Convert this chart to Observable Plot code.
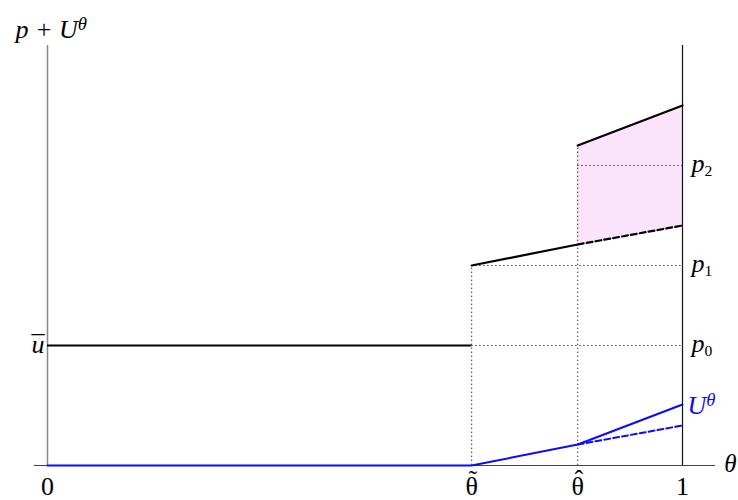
<!DOCTYPE html>
<html>
<head>
<meta charset="utf-8">
<script src="https://cdn.jsdelivr.net/npm/d3@7"></script>
<script src="https://cdn.jsdelivr.net/npm/@observablehq/plot@0.6"></script>
<style>
  html, body { margin: 0; padding: 0; background: #fff; }
  #chart svg { display: block; }
  #chart svg text { font-family: "Liberation Serif", "DejaVu Serif", serif; }
</style>
</head>
<body>
<div id="chart"></div>
<script>
// ---- data (x in θ units, y in value units) ----
const thetaTilde = 0.668;
const thetaHat = 0.835;
const xTicks = [0, thetaTilde, thetaHat, 1];
const xTickLabels = ["0", "θ\u02DC", "θ\u02C6", "1"];
const uBar = 120;
const uBarLabel = "u\u00AF";
const pLevels = [120, 200, 300];
const pLabels = ["p_0", "p_1", "p_2"];
const pStartX = [thetaTilde, thetaTilde, thetaHat];
const lowerSolidX = [thetaTilde, thetaHat];
const lowerSolidY = [200, 221];
const lowerDashX = [thetaHat, 1];
const lowerDashY = [221, 240];
const upperX = [thetaHat, 1];
const upperY = [320, 360];
const uSolidX = [0, thetaTilde, thetaHat, 1];
const uSolidY = [0, 0, 21, 61];
const uDashX = [thetaHat, 1];
const uDashY = [21, 40];
const vDotX = [thetaTilde, thetaHat];
const vDotTop = [200, 320];
const yAxisTitle = "p + U^θ";
const xAxisTitle = "θ";
const uLabel = "U^θ";

const lowerSolid = lowerSolidX.map((x, i) => ({x, y: lowerSolidY[i]}));
const lowerDash = lowerDashX.map((x, i) => ({x, y: lowerDashY[i]}));
const upper = upperX.map((x, i) => ({x, y: upperY[i]}));
const band = upperX.map((x, i) => ({x, y1: lowerDashY[i], y2: upperY[i]}));
const uSolid = uSolidX.map((x, i) => ({x, y: uSolidY[i]}));
const uDash = uDashX.map((x, i) => ({x, y: uDashY[i]}));
const pRows = pLevels.map((y, i) => ({y, x1: pStartX[i], label: pLabels[i]}));
const vRows = vDotX.map((x, i) => ({x, y2: vDotTop[i]}));
const ticks = xTicks.map((x, i) => ({x, label: xTickLabels[i]}));

const blue = "#0a0aff";
const dot = {stroke: "#333", strokeWidth: 1, strokeDasharray: "1.4,2.6"};

const chart = Plot.plot({
  width: 738,
  height: 500,
  marginLeft: 47,
  marginRight: 56,
  marginTop: 45,
  marginBottom: 35,
  x: {domain: [0, 1], axis: null},
  y: {domain: [0, 420], axis: null},
  style: {background: "#fff"},
  marks: [
    Plot.areaY(band, {x: "x", y1: "y1", y2: "y2", fill: "#fbe3fb"}),
    Plot.ruleY(pRows, {y: "y", x1: "x1", x2: 1, ...dot}),
    Plot.ruleX(vRows, {x: "x", y1: 0, y2: "y2", ...dot}),
    Plot.ruleY([0], {x1: -0.0205, x2: 1.052, stroke: "#444", strokeWidth: 1.2}),
    Plot.ruleX([0], {y1: 0, y2: 420, stroke: "#888", strokeWidth: 1.5}),
    Plot.ruleX([1], {y1: 0, y2: 420, stroke: "#111", strokeWidth: 1.2}),
    Plot.ruleY([uBar], {x1: 0, x2: thetaTilde, stroke: "#000", strokeWidth: 2}),
    Plot.line(lowerSolid, {x: "x", y: "y", stroke: "#000", strokeWidth: 2.2}),
    Plot.line(lowerDash, {x: "x", y: "y", stroke: "#000", strokeWidth: 2.2, strokeDasharray: "6,3"}),
    Plot.line(upper, {x: "x", y: "y", stroke: "#000", strokeWidth: 2.2}),
    Plot.line(uSolid, {x: "x", y: "y", stroke: blue, strokeWidth: 2}),
    Plot.line(uDash, {x: "x", y: "y", stroke: blue, strokeWidth: 2, strokeDasharray: "6,3"}),
    // tick labels
    Plot.text(ticks, {x: "x", y: 0, text: "label", dy: 21.5, fontSize: 26, fill: "#000",
      fontStyle: d => (d.label === "0" || d.label === "1") ? "normal" : "italic"}),
    // axis labels
    Plot.text([xAxisTitle], {x: 1.0756, y: 0, text: d => d, dy: -2, fontSize: 25, fontStyle: "italic", fill: "#000"}),
    Plot.text([yAxisTitle], {x: -0.0504, y: 435.5, text: d => d, textAnchor: "start", fontSize: 26, fontStyle: "italic", fill: "#000"}),
    Plot.text([uBarLabel], {x: 0, y: uBar, text: d => d, textAnchor: "end", dx: -3, dy: -1.3, fontSize: 26, fontStyle: "italic", fill: "#000"}),
    Plot.text(pRows, {x: 1, y: "y", text: "label", textAnchor: "start", dx: 9, dy: -2, fontSize: 26, fontStyle: "italic", fill: "#000"}),
    Plot.text([uLabel], {x: 1, y: uSolidY[3], text: d => d, textAnchor: "start", dx: 5, dy: 1, fontSize: 26, fontStyle: "italic", fill: blue})
  ]
});

// rich-text post-processing: "^x" superscript, "_x" subscript, accents over a glyph
const accents = {"\u02DC": {dx: "-0.36em", dy: "-0.3em"}, "\u02C6": {dx: "-0.36em", dy: "-0.3em"}, "\u00AF": {dx: "-0.5em", dy: "0em"}};
d3.select(chart).selectAll("text").each(function () {
  const t = d3.select(this);
  const s = this.textContent;
  if (s.length === 2 && accents[s[1]]) {
    t.text(null);
    t.append("tspan").text(s[0]);
    t.append("tspan").attr("font-style", "normal")
      .attr("dx", accents[s[1]].dx).attr("dy", accents[s[1]].dy).text(s[1]);
    return;
  }
  const m = s.match(/^(.*?)([\^_])(.+)$/);
  if (!m) return;
  const [, main, kind, script] = m;
  t.text(null);
  t.append("tspan").text(main);
  const sub = kind === "_";
  t.append("tspan")
    .attr("font-size", sub ? "0.6em" : "0.72em")
    .attr("font-style", /^[0-9]+$/.test(script) ? "normal" : "italic")
    .attr("dy", sub ? "0.24em" : "-0.42em")
    .text(script);
});

document.getElementById("chart").appendChild(chart);
</script>
</body>
</html>
